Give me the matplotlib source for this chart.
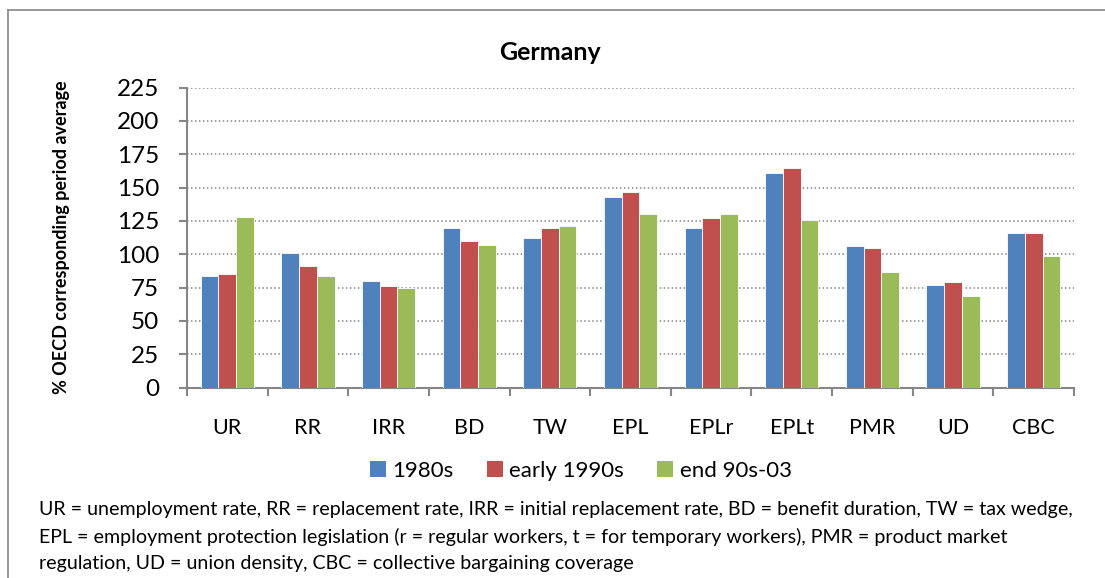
import numpy as np
import matplotlib
matplotlib.use('Agg')
import matplotlib.pyplot as plt
from matplotlib.lines import Line2D
from matplotlib.patches import Patch

plt.rcParams['font.family'] = ['Lato', 'DejaVu Sans']

categories = ['UR', 'RR', 'IRR', 'BD', 'TW', 'EPL', 'EPLr', 'EPLt', 'PMR', 'UD', 'CBC']
s1980s = [84, 101, 80, 120, 112, 143, 120, 161, 106, 77, 116]
early1990s = [85, 91, 76, 110, 120, 147, 127, 165, 105, 79, 116]
end90s03 = [128, 84, 75, 107, 121, 130, 130, 126, 87, 69, 99]
series_names = ['1980s', 'early 1990s', 'end 90s-03']
colors = ['#4F81BD', '#C0504D', '#9BBB59']

footnote_lines = [
    "UR = unemployment rate, RR = replacement rate, IRR = initial replacement rate, "
    "BD = benefit duration, TW = tax wedge,",
    "EPL = employment protection legislation (r = regular workers, t = for temporary "
    "workers), PMR = product market",
    "regulation, UD = union density, CBC = collective bargaining coverage",
]

W, H = 1105, 578
fig = plt.figure(figsize=(W / 100, H / 100), dpi=100)
ax = fig.add_axes([187 / W, 1 - 387.5 / H, (1074 - 187) / W, 300 / H])

grey = '#868686'
x = np.arange(len(categories))
bw = 0.22
for i, (vals, c, name) in enumerate(zip([s1980s, early1990s, end90s03], colors, series_names)):
    ax.bar(x + (i - 1) * bw, vals, width=bw, color=c, edgecolor='white',
           linewidth=0.6, label=name, zorder=3)

ax.set_xlim(-0.5, len(categories) - 0.5)
ax.set_ylim(0, 225)
ax.set_yticks(np.arange(0, 226, 25))
ax.grid(axis='y', color=grey, linestyle=(0, (1, 1.6)), linewidth=1.1, zorder=0)

ax.set_xticks(x)
ax.set_xticklabels(categories, fontsize=15.5)
ax.set_xticks(np.arange(-0.5, len(categories), 1), minor=True)
ax.tick_params(axis='x', which='major', length=0, pad=22)
ax.tick_params(axis='x', which='minor', length=6, width=1.5, color=grey, direction='out')
ax.tick_params(axis='y', length=6, width=1.5, color=grey, direction='out', labelsize=17.5, pad=14)

for side in ['top', 'right']:
    ax.spines[side].set_visible(False)
for side in ['left', 'bottom']:
    ax.spines[side].set_color(grey)
    ax.spines[side].set_linewidth(1.5)

fig.text(62 / W, 1 - 237.5 / H, '% OECD corresponding period average', rotation=90,
         ha='center', va='center', fontsize=13, fontweight='bold')

fig.text(550 / W, 1 - 53 / H, 'Germany', ha='center', va='center', fontsize=18, fontweight='bold')

handles = [Patch(facecolor=c, edgecolor='none') for c in colors]
fig.legend(handles, series_names, loc='center', bbox_to_anchor=(581 / W, 1 - 471 / H),
           ncol=3, frameon=False, fontsize=16, handlelength=0.7, handleheight=0.7,
           handletextpad=0.3, columnspacing=1.5)

for k, line in enumerate(footnote_lines):
    fig.text(39 / W, 1 - (510 + 26.5 * k) / H, line, ha='left', va='center', fontsize=14.15)

# chart frame (left and top edges visible)
fig.add_artist(Line2D([8 / W, 8 / W], [0, 1 - 10 / H], color=grey, linewidth=1.2))
fig.add_artist(Line2D([8 / W, 1], [1 - 10 / H, 1 - 10 / H], color=grey, linewidth=1.2))

fig.savefig('out.png', dpi=100)
